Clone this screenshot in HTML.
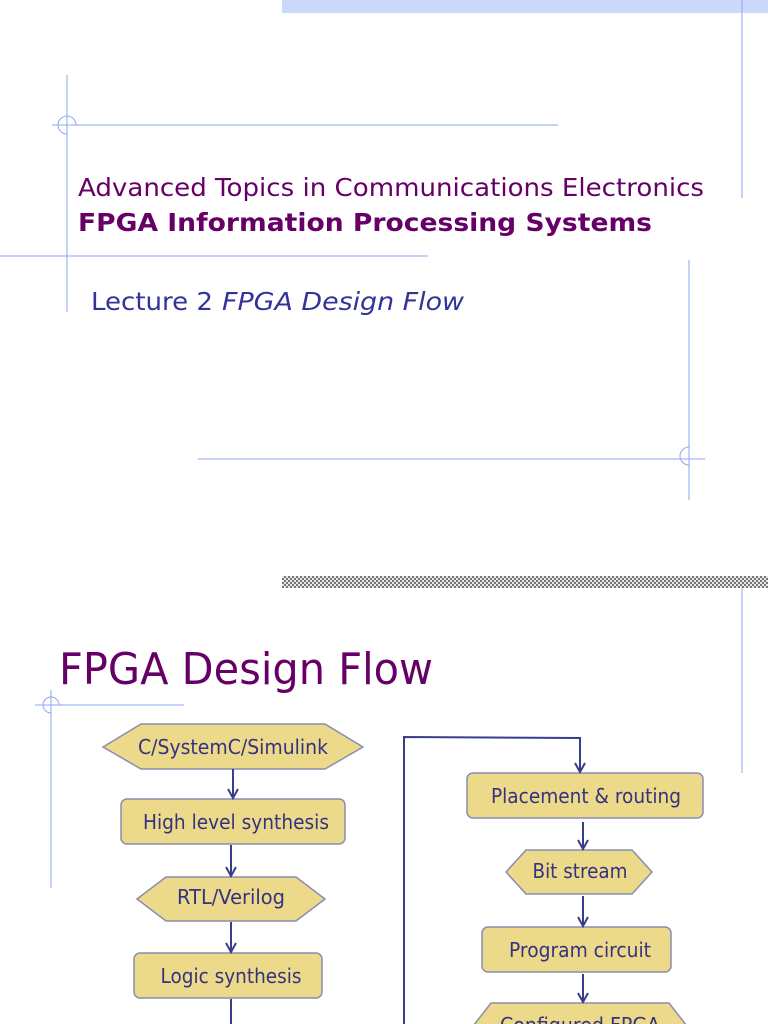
<!DOCTYPE html>
<html><head><meta charset="utf-8"><style>
html,body{margin:0;padding:0;background:#fff;}
svg{display:block;}
text{font-family:"DejaVu Sans","Liberation Sans",sans-serif;}
</style></head><body>
<svg width="768" height="1024" viewBox="0 0 768 1024" xmlns="http://www.w3.org/2000/svg">
<defs>
<pattern id="ck" width="4" height="4" patternUnits="userSpaceOnUse">
<rect width="4" height="4" fill="#e8e8e8"/>
<rect width="2" height="2" fill="#777"/>
<rect x="2" y="2" width="2" height="2" fill="#777"/>
</pattern>
<marker id="ar" markerWidth="12" markerHeight="12" refX="10" refY="6" orient="auto" markerUnits="userSpaceOnUse">
<path d="M1,1 L10,6 L1,11" fill="none" stroke="#3a3d8c" stroke-width="2"/>
</marker>
</defs>
<rect x="282" y="0" width="486" height="13" fill="#cad8fb"/>
<g stroke="#8ea6f0" stroke-width="1" fill="none">
<line x1="742" y1="0" x2="742" y2="198"/>
<line x1="67" y1="75" x2="67" y2="312"/>
<line x1="52" y1="125" x2="558" y2="125"/>
<path d="M67,116 A9,9 0 1,0 67,134"/>
<path d="M67,116 A9,9 0 0,1 76,125"/>
<line x1="0" y1="256" x2="428" y2="256"/>
<line x1="689" y1="260" x2="689" y2="500"/>
<line x1="198" y1="459" x2="705" y2="459"/>
<path d="M689,447 A9,9 0 1,0 689,465"/>
</g>
<text x="78" y="196" font-size="25" fill="#660066" textLength="626" lengthAdjust="spacingAndGlyphs">Advanced Topics in Communications Electronics</text>
<text x="78" y="231" font-size="25" font-weight="bold" fill="#660066" textLength="574" lengthAdjust="spacingAndGlyphs">FPGA Information Processing Systems</text>
<text x="91" y="310" font-size="25" fill="#333399" textLength="122" lengthAdjust="spacingAndGlyphs">Lecture 2</text>
<text x="222" y="310" font-size="25" font-style="italic" fill="#333399" textLength="242" lengthAdjust="spacingAndGlyphs">FPGA Design Flow</text>
<rect x="282" y="576" width="486" height="12" fill="url(#ck)"/>
<g stroke="#8ea6f0" stroke-width="1" fill="none">
<line x1="742" y1="588" x2="742" y2="773"/>
<line x1="51" y1="690" x2="51" y2="888"/>
<line x1="35" y1="705" x2="184" y2="705"/>
<path d="M51,697 A8,8 0 1,0 51,713"/>
<path d="M51,697 A8,8 0 0,1 59,705"/>
</g>
<text x="59" y="684" font-size="44" fill="#660066" textLength="374" lengthAdjust="spacingAndGlyphs">FPGA Design Flow</text>
<g fill="#ecd98a" stroke="#8a8cb0" stroke-width="1.5">
<polygon points="103,747 141,724 325,724 363,747 325,769 141,769"/>
<rect x="121" y="799" width="224" height="45" rx="6"/>
<polygon points="137,899 166,877 296,877 325,899 296,921 166,921"/>
<rect x="134" y="953" width="188" height="45" rx="6"/>
<rect x="467" y="773" width="236" height="45" rx="6"/>
<polygon points="506,872 526,850 632,850 652,872 632,894 526,894"/>
<rect x="482" y="927" width="189" height="45" rx="6"/>
<polygon points="470,1030 491,1003 669,1003 690,1030"/>
</g>
<g stroke="#3a3d8c" stroke-width="2" fill="none">
<line x1="233" y1="769" x2="233" y2="798" marker-end="url(#ar)"/>
<line x1="231" y1="845" x2="231" y2="876" marker-end="url(#ar)"/>
<line x1="231" y1="922" x2="231" y2="952" marker-end="url(#ar)"/>
<line x1="231" y1="999" x2="231" y2="1030"/>
<polyline points="404,1024 404,737 580,738 580,772" marker-end="url(#ar)"/>
<line x1="583" y1="822" x2="583" y2="849" marker-end="url(#ar)"/>
<line x1="583" y1="896" x2="583" y2="926" marker-end="url(#ar)"/>
<line x1="583" y1="974" x2="583" y2="1002" marker-end="url(#ar)"/>
</g>
<g font-size="20" fill="#333380" text-anchor="middle">
<text x="233" y="754" textLength="190" lengthAdjust="spacingAndGlyphs">C/SystemC/Simulink</text>
<text x="236" y="829" textLength="186" lengthAdjust="spacingAndGlyphs">High level synthesis</text>
<text x="231" y="904" textLength="108" lengthAdjust="spacingAndGlyphs">RTL/Verilog</text>
<text x="231" y="983" textLength="141" lengthAdjust="spacingAndGlyphs">Logic synthesis</text>
<text x="586" y="803" textLength="190" lengthAdjust="spacingAndGlyphs">Placement &amp; routing</text>
<text x="580" y="878" textLength="95" lengthAdjust="spacingAndGlyphs">Bit stream</text>
<text x="580" y="957" textLength="142" lengthAdjust="spacingAndGlyphs">Program circuit</text>
<text x="580" y="1032" textLength="160" lengthAdjust="spacingAndGlyphs">Configured FPGA</text>
</g>
</svg>
</body></html>
